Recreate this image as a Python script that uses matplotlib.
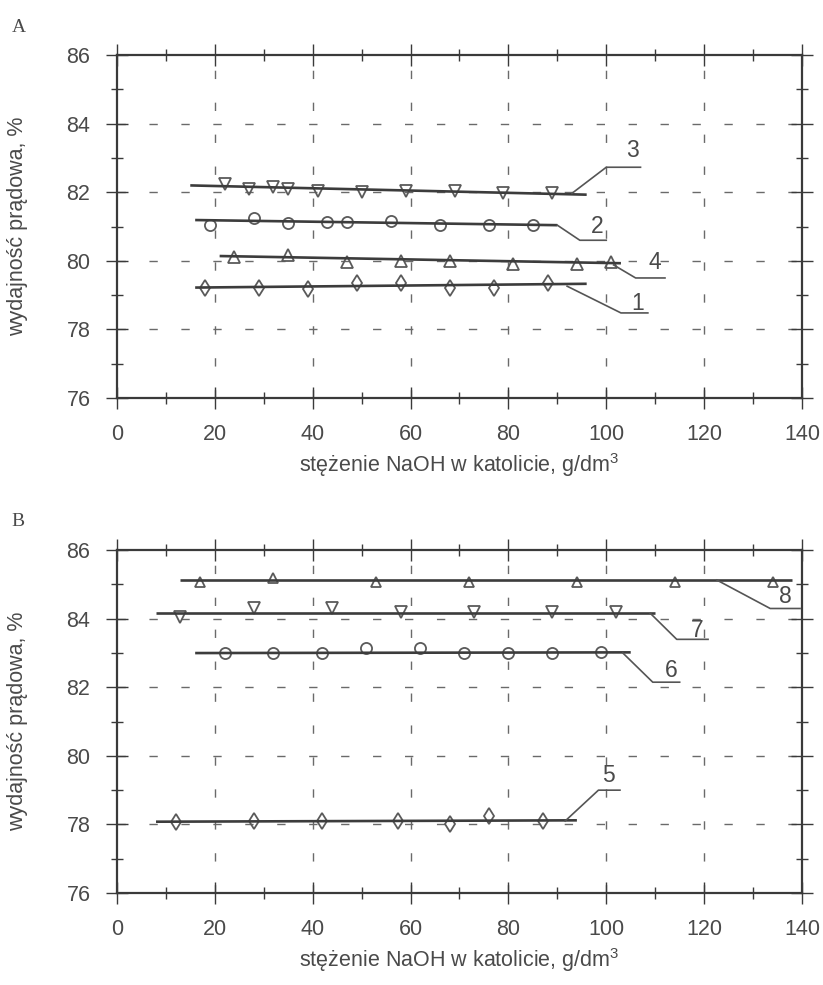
import matplotlib
matplotlib.use("Agg")
import matplotlib.pyplot as plt
from matplotlib.ticker import MultipleLocator

plt.rcParams['font.family'] = ['Liberation Sans', 'DejaVu Sans']
plt.rcParams['mathtext.fontset'] = 'custom'
plt.rcParams['mathtext.rm'] = 'Liberation Sans'
plt.rcParams['mathtext.it'] = 'Liberation Sans'
plt.rcParams['mathtext.default'] = 'regular'

# ---------------- data: panel A ----------------
a1_x = [18, 29, 39, 49, 58, 68, 77, 88]
a1_y = [79.22, 79.22, 79.17, 79.36, 79.36, 79.22, 79.2, 79.36]
a2_x = [19, 28, 35, 43, 47, 56, 66, 76, 85]
a2_y = [81.05, 81.25, 81.1, 81.13, 81.13, 81.15, 81.04, 81.04, 81.04]
a3_x = [22, 27, 32, 35, 41, 50, 59, 69, 79, 89]
a3_y = [82.25, 82.1, 82.15, 82.1, 82.05, 82.0, 82.05, 82.05, 81.97, 81.97]
a4_x = [24, 35, 47, 58, 68, 81, 94, 101]
a4_y = [80.1, 80.16, 79.97, 80.0, 80.0, 79.9, 79.9, 79.97]

# fitted lines (start/end) panel A
fa1_x, fa1_y = [16, 96], [79.22, 79.33]
fa2_x, fa2_y = [16, 90], [81.19, 81.04]
fa3_x, fa3_y = [15, 96], [82.2, 81.93]
fa4_x, fa4_y = [21, 103], [80.14, 79.93]

# ---------------- data: panel B ----------------
b5_x = [12, 28, 42, 57.5, 68, 76, 87]
b5_y = [78.08, 78.1, 78.1, 78.1, 78.0, 78.24, 78.1]
b6_x = [22, 32, 42, 51, 62, 71, 80, 89, 99]
b6_y = [83.0, 83.0, 83.0, 83.14, 83.14, 83.0, 83.0, 83.0, 83.03]
b7_x = [13, 28, 44, 58, 73, 89, 102]
b7_y = [84.05, 84.3, 84.3, 84.2, 84.2, 84.2, 84.2]
b8_x = [17, 32, 53, 72, 94, 114, 134]
b8_y = [85.07, 85.18, 85.07, 85.07, 85.07, 85.07, 85.07]

fb5_x, fb5_y = [8, 94], [78.08, 78.12]
fb6_x, fb6_y = [16, 105], [83.0, 83.02]
fb7_x, fb7_y = [8, 110], [84.16, 84.16]
fb8_x, fb8_y = [13, 138], [85.13, 85.13]

# curve labels: (text, leader x, leader y, text x, text y-centre)
labels_A = [
    ("3", [93, 100, 107], [81.97, 82.73, 82.73], 105.3, 83.22),
    ("2", [90, 94.6, 100], [81.04, 80.6, 80.6], 98.2, 81.01),
    ("4", [101.5, 106, 112], [79.88, 79.5, 79.5], 110.0, 79.94),
    ("1", [92, 103, 108.5], [79.26, 78.48, 78.48], 106.4, 78.76),
]
labels_B = [
    ("8", [122.6, 133.5, 139.6], [85.13, 84.3, 84.3], 136.6, 84.66),
    ("7", [109, 114.4, 120.8], [84.16, 83.4, 83.4], 118.5, 83.67),
    ("6", [103.4, 109.5, 115], [83.0, 82.15, 82.15], 113.3, 82.5),
    ("5", [91.6, 98.4, 102.8], [78.1, 79.0, 79.0], 100.5, 79.44),
]

xlabel = "stężenie NaOH w katolicie, g/dm$^{3}$"
ylabel = "wydajność prądowa, %"

TXT = '#4a4a4a'
AX = '#3a3a3a'
LINE = '#3c3c3c'
MK = '#5a5a5a'
GRID = '#6a6a6a'
FS = 15.5

fig = plt.figure(figsize=(8.23, 9.85), dpi=100)
axA = fig.add_axes([0.142, 0.596, 0.8325, 0.348])
axB = fig.add_axes([0.142, 0.0934, 0.8325, 0.348])


def style(ax):
    ax.set_xlim(0, 140)
    ax.set_ylim(76, 86)
    ax.xaxis.set_major_locator(MultipleLocator(20))
    ax.xaxis.set_minor_locator(MultipleLocator(10))
    ax.yaxis.set_major_locator(MultipleLocator(2))
    ax.yaxis.set_minor_locator(MultipleLocator(1))
    for s in ax.spines.values():
        s.set_color(AX)
        s.set_linewidth(1.6)
    ax.tick_params(which='major', direction='inout', length=16, width=1.0,
                   color=AX, labelsize=FS, labelcolor=TXT,
                   top=True, right=True)
    ax.tick_params(which='minor', direction='inout', length=9, width=1.0,
                   color=AX, top=True, right=True)
    ax.tick_params(axis='x', which='major', pad=11)
    ax.tick_params(axis='y', which='major', pad=11)
    for v in range(20, 140, 20):
        ax.axvline(v, color=GRID, lw=1.0, ls=(0, (6, 17)), zorder=1)
    for v in range(78, 86, 2):
        ax.axhline(v, color=GRID, lw=1.0, ls=(0, (6, 17)), zorder=1)
    ax.set_xlabel(xlabel, fontsize=FS, color=TXT)
    ax.set_ylabel(ylabel, fontsize=FS, color=TXT)
    ax.xaxis.set_label_coords(0.5, -0.155)
    ax.yaxis.set_label_coords(-0.13, 0.5)


def series(ax, x, y, m, ms=8):
    ax.plot(x, y, ls='none', marker=m, ms=ms, mfc='none', mec=MK, mew=1.3,
            zorder=3)


def fit(ax, x, y):
    ax.plot(x, y, color=LINE, lw=1.9, zorder=4, solid_capstyle='butt')


def add_labels(ax, labels):
    for t, lx, ly, tx, ty in labels:
        ax.plot(lx, ly, color='#555555', lw=1.2, zorder=4, clip_on=False)
        ax.text(tx, ty, t, fontsize=FS + 1, color=TXT, ha='center',
                va='center', zorder=5)


style(axA)
series(axA, a1_x, a1_y, 'd', 8)
series(axA, a2_x, a2_y, 'o', 8)
series(axA, a3_x, a3_y, 'v', 8)
series(axA, a4_x, a4_y, '^', 8)
fit(axA, fa1_x, fa1_y)
fit(axA, fa2_x, fa2_y)
fit(axA, fa3_x, fa3_y)
fit(axA, fa4_x, fa4_y)
add_labels(axA, labels_A)

style(axB)
series(axB, b5_x, b5_y, 'd', 8)
series(axB, b6_x, b6_y, 'o', 8)
series(axB, b7_x, b7_y, 'v', 8)
series(axB, b8_x, b8_y, '^', 7)
fit(axB, fb5_x, fb5_y)
fit(axB, fb6_x, fb6_y)
fit(axB, fb7_x, fb7_y)
fit(axB, fb8_x, fb8_y)
add_labels(axB, labels_B)

fig.text(0.014, 0.968, "A", fontsize=14, color=TXT, family=['Liberation Serif', 'DejaVu Serif'])
fig.text(0.014, 0.466, "B", fontsize=14, color=TXT, family=['Liberation Serif', 'DejaVu Serif'])

fig.savefig("out.png", dpi=100, facecolor='white')
